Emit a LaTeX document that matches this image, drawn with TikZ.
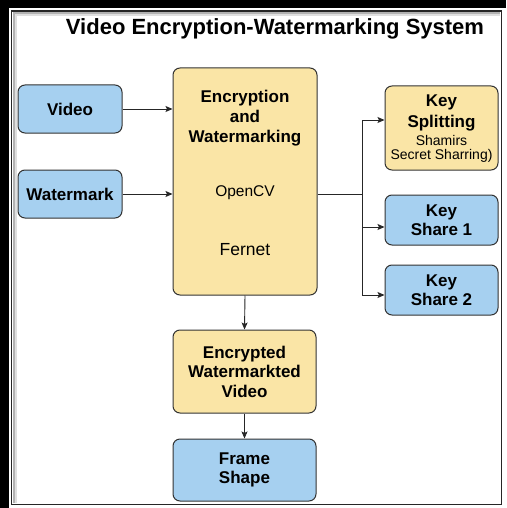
\documentclass[tikz,border=0pt]{standalone}
\usepackage{fontspec}
\setmainfont{Liberation Sans}
\usetikzlibrary{arrows.meta,positioning}
\definecolor{boxyellow}{RGB}{250,229,166}
\definecolor{boxblue}{RGB}{166,208,240}
\definecolor{boxline}{RGB}{51,51,51}
\tikzset{
  box/.style={draw=boxline,line width=1pt,rounded corners=7pt,align=center,
    font=\bfseries\fontsize{17}{19.5}\selectfont,inner sep=0pt},
  yellowbox/.style={box,fill=boxyellow},
  bluebox/.style={box,fill=boxblue},
  arr/.style={-{Stealth[length=7pt,width=6pt,inset=1.5pt]},line width=0.9pt,draw=black!85},
}
\begin{document}
\begin{tikzpicture}[x=1pt,y=-1pt]
    \useasboundingbox (0,0) rectangle (506,508);
    % frame round the page
    \fill[black] (0,0) rectangle (506,8);
    \fill[black] (0,0) rectangle (9,508);
    \draw[line width=1.6pt,black!85] (11.5,11) rectangle (501.5,504.5);
    \draw[gray!60,line width=2pt] (13.5,503) -- (13.5,13) -- (500,13);
    \draw[gray!25,line width=2pt] (15.5,503) -- (15.5,15) -- (500,15);
    \node[font=\bfseries\fontsize{22}{24}\selectfont] (title) at (275,29) {Video Encryption-Watermarking System};
    \node[bluebox,minimum width=104pt,minimum height=48pt] (video) at (70,109) {Video};
    \node[bluebox,minimum width=104pt,minimum height=48pt] (wmark) at (70,194) {Watermark};
    \node[yellowbox,minimum width=144pt,minimum height=227pt] (enc) at (245,181.5) {};
    \node[font=\bfseries\fontsize{17}{20}\selectfont,align=center] (enctitle) at (245,118) {Encryption\\and\\Watermarking};
    \node[font=\fontsize{15.5}{18}\selectfont] (opencv) at (245,193) {OpenCV};
    \node[font=\fontsize{17.5}{20}\selectfont] (fernet) at (245,250) {Fernet};
    \node[yellowbox,minimum width=113pt,minimum height=84pt] (keysplit) at (441.5,128) {};
    \node[font=\bfseries\fontsize{17}{21}\selectfont,align=center] (kstitle) at (441.5,112.5) {Key\\Splitting};
    \node[font=\fontsize{14}{14}\selectfont,align=center] (ksnote) at (441.5,149) {Shamirs\\Secret Sharring)};
    \node[bluebox,minimum width=113pt,minimum height=50pt] (share1) at (441.5,220) {Key\\Share 1};
    \node[bluebox,minimum width=113pt,minimum height=50pt] (share2) at (441.5,290) {Key\\Share 2};
    \node[yellowbox,minimum width=143pt,minimum height=83pt] (ewv) at (244.5,371.5) {Encrypted\\Watermarkted\\Video};
    \node[bluebox,minimum width=143pt,minimum height=62pt] (frame) at (244.5,470) {Frame\\Shape};
    \coordinate (split) at (362,194);
    \draw[arr] (video.east) -- (video.east -| enc.west);
    \draw[arr] (wmark.east) -- (wmark.east -| enc.west);
    \draw[line width=0.9pt,black!85] (enc.east |- split) -- (split);
    \draw[arr] (split) |- ([yshift=8pt]keysplit.west);
    \draw[arr] (split) |- ([yshift=-7pt]share1.west);
    \draw[arr] (split) |- ([yshift=-5pt]share2.west);
    \draw[arr] (enc.south) -- (ewv.north);
    \draw[arr] (ewv.south) -- (frame.north);
\end{tikzpicture}
\end{document}
